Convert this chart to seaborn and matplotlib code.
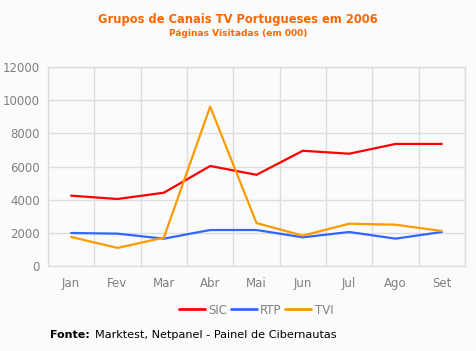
import numpy as np
import pandas as pd
import matplotlib
matplotlib.use("Agg")
import matplotlib.pyplot as plt
import seaborn as sns
from matplotlib.lines import Line2D

# ----- data -----
months = ["Jan", "Fev", "Mar", "Abr", "Mai", "Jun", "Jul", "Ago", "Set"]
sic = [4240, 4040, 4420, 6030, 5500, 6950, 6770, 7360, 7360]
rtp = [1990, 1950, 1650, 2170, 2170, 1730, 2050, 1650, 2050]
tvi = [1750, 1090, 1710, 9610, 2590, 1830, 2550, 2490, 2110]
series_names = ["SIC", "RTP", "TVI"]
colors = ["#FF0000", "#3366FF", "#FF9900"]
# ----------------

df = pd.DataFrame({"Mes": months, "SIC": sic, "RTP": rtp, "TVI": tvi})
long_df = df.melt(id_vars="Mes", var_name="Canal", value_name="Paginas")
long_df["pos"] = long_df["Mes"].map({m: i for i, m in enumerate(months)})

sns.set_theme(style="white")
plt.rcParams["font.family"] = ["DejaVu Sans"]

bg = "#FBFBFB"
fig = plt.figure(figsize=(4.76, 3.51), dpi=100, facecolor=bg)
ax = fig.add_axes([48 / 476, 1 - 266 / 351, (465 - 48) / 476, (266 - 67) / 351])
ax.set_facecolor(bg)

sns.lineplot(data=long_df, x="pos", y="Paginas", hue="Canal",
             hue_order=series_names, palette=colors, linewidth=1.6,
             ax=ax, legend=False)

ax.set_xlim(-0.5, len(months) - 0.5)
ax.set_ylim(0, 12000)
ax.set_yticks(np.arange(0, 12001, 2000))
ax.set_xticks(range(len(months)))
ax.set_xticklabels(months)
ax.set_xticks(np.arange(-0.5, len(months), 1), minor=True)
ax.set_xlabel("")
ax.set_ylabel("")

ax.grid(True, axis="y", color="#DDDDDD", linewidth=1)
ax.grid(True, axis="x", which="minor", color="#DDDDDD", linewidth=1)
ax.grid(False, axis="x", which="major")
ax.tick_params(axis="x", which="major", length=0, pad=8, labelsize=8.5, labelcolor="#808080")
ax.tick_params(axis="x", which="minor", length=4, color="#DDDDDD", width=1)
ax.tick_params(axis="y", length=0, pad=6, labelsize=8.5, labelcolor="#808080")
for side in ["top", "right", "left", "bottom"]:
    ax.spines[side].set_color("#DDDDDD")
    ax.spines[side].set_linewidth(1)

# legend below the plot
handles = [Line2D([0], [0], color=c, lw=2) for c in colors]
fig.legend(handles, series_names, loc="center", bbox_to_anchor=(256 / 476, 1 - 310 / 351),
           ncol=3, frameon=False, fontsize=8.5, handlelength=2.2, handletextpad=0.3,
           columnspacing=0.3, labelcolor="#808080")

fig.text(0.5, 1 - 20 / 351, "Grupos de Canais TV Portugueses em 2006", ha="center",
         va="center", color="#FF6600", fontsize=8.3, fontweight="bold")
fig.text(0.5, 1 - 33 / 351, "Páginas Visitadas (em 000)", ha="center",
         va="center", color="#FF6600", fontsize=6.5, fontweight="bold")

fig.text(50 / 476, 1 - 335 / 351, "Fonte:", ha="left", va="center",
         color="black", fontsize=8, fontweight="bold")
fig.text(95 / 476, 1 - 335 / 351, "Marktest, Netpanel - Painel de Cibernautas",
         ha="left", va="center", color="black", fontsize=8.1)

fig.savefig("out.png", dpi=100, facecolor=bg)
